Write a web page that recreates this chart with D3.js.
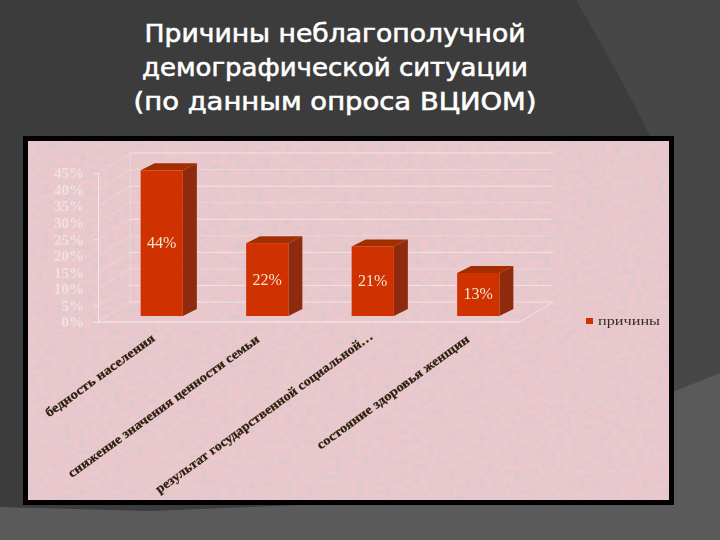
<!DOCTYPE html>
<html><head><meta charset="utf-8">
<script src="https://cdn.jsdelivr.net/npm/d3@7"></script>
<style>html,body{margin:0;padding:0;background:#3c3c3c}svg{display:block}</style>
</head><body><div id="c"></div>
<script>
const titleLines = ["Причины неблагополучной","демографической ситуации","(по данным опроса ВЦИОМ)"];
const categories = ["бедность населения","снижение значения ценности семьи","результат государственной социальной…","состояние здоровья женщин"];
const values = [44,22,21,13];
const seriesName = "причины";
const yTicks = [0,5,10,15,20,25,30,35,40,45];

const W=720,H=540;
const svg=d3.select("#c").append("svg").attr("width",W).attr("height",H);
const defs=svg.append("defs");
const f=defs.append("filter").attr("id","paper").attr("x",0).attr("y",0).attr("width","100%").attr("height","100%");
f.append("feTurbulence").attr("type","fractalNoise").attr("baseFrequency","0.14 0.2").attr("numOctaves",3).attr("seed",4).attr("result","n");
f.append("feColorMatrix").attr("in","n").attr("type","matrix")
 .attr("values","0 0 0 0 0.72  0 0 0 0 0.58  0 0 0 0 0.62  2.6 0 0 0 -1.0").attr("result","spots");
f.append("feMerge").selectAll("feMergeNode").data(["SourceGraphic","spots"]).join("feMergeNode").attr("in",d=>d);
const soft=defs.append("filter").attr("id","soft").attr("x","-5%").attr("y","-5%").attr("width","110%").attr("height","110%");
soft.append("feGaussianBlur").attr("stdDeviation",0.45);

// slide background
svg.append("rect").attr("width",W).attr("height",H).attr("fill","#3c3c3c");
svg.append("path").attr("d","M576,0 Q620,75 652,140 L652,400 L720,373 L720,0 Z").attr("fill","#474747");
svg.append("path").attr("d","M0,507 L150,511 L300,505 L652,400 L720,373 L720,540 L0,540 Z").attr("fill","#5a5a5a");

// title
svg.append("g").selectAll("text").data(titleLines).join("text")
 .attr("x",335).attr("y",(d,i)=>42+i*34)
 .attr("text-anchor","middle").attr("fill","#fff").attr("stroke","#fff").attr("stroke-width",0.6)
 .style("font-family","'DejaVu Sans'").style("font-size","25px")
 .attr("textLength",(d,i)=>[381,386,403][i]).attr("lengthAdjust","spacingAndGlyphs")
 .text(d=>d);

// panel
svg.append("rect").attr("x",23).attr("y",136).attr("width",651).attr("height",369).attr("fill","#000");
svg.append("rect").attr("x",28).attr("y",141).attr("width",641).attr("height",359).attr("fill","#ecc8cc").attr("filter","url(#paper)");

// scales
const x=d3.scaleBand().domain(categories).range([109,531]).paddingInner(0.6).paddingOuter(0.3);
const y=d3.scaleLinear().domain([0,45]).range([322,173]);
const axisX0=98,axisX1=520,wallDx=32,wallDy=-20;
const barLift=-6,depthX=14,depthY=-7;
const line="#f6e6e6";

const chart=svg.append("g").attr("filter","url(#soft)");
// back wall gridlines
chart.append("g").selectAll("line").data(yTicks).join("line")
 .attr("x1",axisX0+wallDx).attr("x2",axisX1+wallDx+1)
 .attr("y1",d=>y(d)+wallDy).attr("y2",d=>y(d)+wallDy)
 .attr("stroke",line).attr("stroke-width",1).attr("opacity",d=>d%10===5||d===0?0.9:0.4);
// left wall diagonals
chart.append("g").selectAll("line").data(yTicks).join("line")
 .attr("x1",axisX0).attr("x2",axisX0+wallDx)
 .attr("y1",d=>y(d)).attr("y2",d=>y(d)+wallDy)
 .attr("stroke",line).attr("stroke-width",0.8).attr("opacity",0.5);
// back wall left edge, floor right edge
chart.append("line").attr("x1",axisX0+wallDx).attr("x2",axisX0+wallDx).attr("y1",y(45)+wallDy).attr("y2",y(0)+wallDy).attr("stroke",line).attr("opacity",.4);
chart.append("line").attr("x1",axisX1).attr("x2",axisX1+wallDx+1).attr("y1",y(0)).attr("y2",y(0)+wallDy).attr("stroke",line).attr("opacity",.8);

// axis
const axis=d3.axisLeft(y).tickValues(yTicks).tickSize(4).tickFormat(d=>d+"%");
const ag=chart.append("g").attr("transform",`translate(${axisX0},0)`).call(axis);
ag.select(".domain").attr("stroke",line);
ag.selectAll(".tick line").attr("stroke",line).attr("opacity",d=>d%20===5?1:0);
ag.selectAll("text").attr("x",-14).attr("fill","#f2e0e0")
 .style("font-family","'Liberation Serif'").style("font-size","15px").style("font-weight","bold");
chart.append("line").attr("x1",axisX0).attr("x2",axisX1).attr("y1",y(0)).attr("y2",y(0)).attr("stroke","#f8eeee").attr("stroke-width",1.2);

// bars
const bars=chart.append("g").selectAll("g").data(values).join("g");
const bx=(d,i)=>x(categories[i]), bw=x.bandwidth();
const by=d=>y(d)+barLift, b0=y(0)+barLift;
bars.append("path").attr("fill","#8e2a08").attr("d",(d,i)=>{const r=bx(d,i)+bw;
  return `M${r},${by(d)}L${r+depthX},${by(d)+depthY}L${r+depthX},${b0+depthY}L${r},${b0}Z`;});
bars.append("path").attr("fill","#a32f06").attr("d",(d,i)=>{const l=bx(d,i),r=l+bw;
  return `M${l},${by(d)}L${l+depthX},${by(d)+depthY}L${r+depthX},${by(d)+depthY}L${r},${by(d)}Z`;});
bars.append("rect").attr("x",bx).attr("y",by).attr("width",bw).attr("height",d=>b0-by(d)).attr("fill","#cf3300");
bars.append("text").attr("x",(d,i)=>bx(d,i)+bw/2).attr("y",d=>(by(d)+b0)/2+5)
 .attr("text-anchor","middle").attr("fill","#f8e4d0")
 .style("font-family","'Liberation Serif'").style("font-size","16px")
 .text(d=>d+"%");

// category labels
const labelLen=[132,233,265,185];
chart.append("g").selectAll("text").data(categories).join("text")
 .attr("transform",(d,i)=>`translate(${x(d)+bw/2-[6,7,-1,8][i]},${[340,341,338,341][i]}) rotate(-36)`)
 .attr("text-anchor","end").attr("fill","#2e200c").attr("stroke","#2e200c").attr("stroke-width",0.25)
 .style("font-family","'Liberation Serif'").style("font-size","13px").style("font-weight","bold")
 .attr("textLength",(d,i)=>labelLen[i]).attr("lengthAdjust","spacingAndGlyphs")
 .text(d=>d);

// legend
chart.append("rect").attr("x",586).attr("y",318).attr("width",7).attr("height",6).attr("fill","#cf3300");
chart.append("text").attr("x",598).attr("y",325).attr("fill","#3a2c22")
 .style("font-family","'Liberation Serif'").style("font-size","12px")
 .attr("textLength",62).attr("lengthAdjust","spacingAndGlyphs").text(seriesName);
</script></body></html>
